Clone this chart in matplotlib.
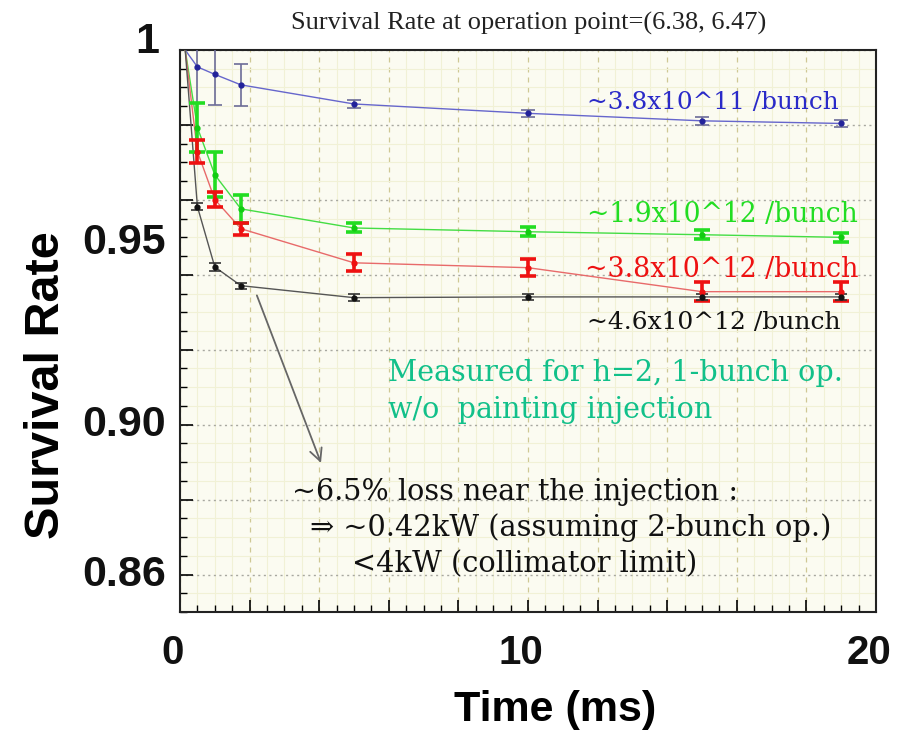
import matplotlib
matplotlib.use("Agg")
import matplotlib.pyplot as plt
import numpy as np

# ---- data ----
time_ms = [0.15, 0.5, 1.0, 1.75, 5, 10, 15, 19]
blue_rate = [1.0, 0.9955, 0.9935, 0.9907, 0.9856, 0.9831, 0.9811, 0.9804]
blue_err = [0, 0.0096, 0.0081, 0.0057, 0.001, 0.001, 0.001, 0.001]
green_rate = [1.0, 0.9793, 0.9667, 0.9576, 0.9525, 0.9515, 0.9507, 0.9500]
green_err = [0, 0.0065, 0.006, 0.0037, 0.0012, 0.0012, 0.0012, 0.0012]
red_rate = [1.0, 0.9729, 0.9601, 0.9523, 0.9432, 0.9419, 0.9355, 0.9355]
red_err = [0, 0.003, 0.002, 0.0016, 0.0023, 0.0023, 0.0025, 0.0025]
black_rate = [1.0, 0.9582, 0.9421, 0.9371, 0.9339, 0.9341, 0.9341, 0.9341]
black_err = [0, 0.001, 0.001, 0.0008, 0.001, 0.0008, 0.0008, 0.0008]

series_labels = ["~3.8x10^11 /bunch", "~1.9x10^12 /bunch",
                 "~3.8x10^12 /bunch", "~4.6x10^12 /bunch"]
title = "Survival Rate at operation point=(6.38, 6.47)"
xtick_vals = [0, 10, 20]
ytick_grid = [0.86, 0.88, 0.90, 0.92, 0.94, 0.96, 0.98, 1.0]

fig = plt.figure(figsize=(9, 7.41), dpi=100)
ax = fig.add_axes([0.2, 0.1741, 0.7733, 0.7584])
ax.set_facecolor("#fbfbf1")
ax.set_xlim(0, 20)
ax.set_ylim(0.85, 1.0)

# background grid
ax.set_xticks(np.arange(0, 20.01, 2))
ax.set_xticks(np.arange(0, 20.01, 0.5), minor=True)
ax.set_yticks(ytick_grid)
ax.set_yticks(np.arange(0.85, 1.0001, 0.005), minor=True)
ax.grid(axis="x", which="minor", color="#f1f1d6", lw=0.8, ls="-")
ax.grid(axis="y", which="minor", color="#f1f1d6", lw=0.8, ls="-")
ax.grid(axis="x", which="major", color="#cfc894", lw=0.9, ls=(0, (4, 4)))
ax.grid(axis="y", which="major", color="#a8a8a0", lw=1.0, ls=(0, (1.5, 2.5)))
ax.set_axisbelow(True)

ax.tick_params(which="both", direction="in", top=False, right=False,
               labelbottom=False, labelleft=False)
ax.tick_params(which="major", length=9, width=1.2)
ax.tick_params(which="minor", length=5, width=1.0)
for s in ax.spines.values():
    s.set_linewidth(1.5)
    s.set_color("#222222")

# series
def draw(rate, err, lc, mc, ec, elw, cap):
    ax.plot(time_ms, rate, color=lc, lw=1.0, zorder=3)
    ax.errorbar(time_ms[1:], rate[1:], yerr=err[1:], fmt="o", ms=3.5,
                color=mc, ecolor=ec, elinewidth=elw, capsize=cap,
                capthick=elw, zorder=4)

draw(blue_rate, blue_err, "#6666cc", "#22229a", "#6c6c98", 1.2, 5)
draw(green_rate, green_err, "#44dd44", "#11cc11", "#22dd22", 2.6, 6)
draw(red_rate, red_err, "#e86a6a", "#ee1111", "#ee1111", 2.6, 6)
draw(black_rate, black_err, "#555555", "#111111", "#333333", 1.2, 4)

# labels on curves
serif = "DejaVu Serif"
ax.text(11.7, 0.9859, series_labels[0], color="#2a2ac8", fontsize=17.8,
        family=serif, va="center", ha="left")
ax.text(11.7, 0.9560, series_labels[1], color="#22dd22", fontsize=19.2,
        family=serif, va="center", ha="left")
ax.text(11.64, 0.9413, series_labels[2], color="#ee1111", fontsize=19.4,
        family=serif, va="center", ha="left")
ax.text(11.7, 0.9272, series_labels[3], color="#111111", fontsize=18,
        family=serif, va="center", ha="left")
ax.text(5.98, 0.9139, "Measured for h=2, 1-bunch op.", color="#12c08a",
        fontsize=20.6, family=serif, va="center", ha="left")
ax.text(5.98, 0.9040, "w/o  painting injection", color="#12c08a",
        fontsize=20.6, family=serif, va="center", ha="left")
ax.text(3.22, 0.8819, "~6.5% loss near the injection :", color="#111111",
        fontsize=20.6, family=serif, va="center", ha="left")
ax.text(3.74, 0.8725, "\u21d2 ~0.42kW (assuming 2-bunch op.)", color="#111111",
        fontsize=20.8, family=serif, va="center", ha="left")
ax.text(4.94, 0.8627, "<4kW (collimator limit)", color="#111111",
        fontsize=20.8, family=serif, va="center", ha="left")

ax.annotate("", xy=(4.08, 0.8891), xytext=(2.18, 0.9352),
            arrowprops=dict(arrowstyle="->", color="#666666", lw=1.3,
                            mutation_scale=22))

# tick labels
bold = dict(family="Liberation Sans", fontweight="bold", color="#111111")
trans_y = ax.get_yaxis_transform()
for v, lab, dx in [(1.0021, "1", -0.03), (0.9485, "0.95", -0.02),
                   (0.90, "0.90", -0.02), (0.86, "0.86", -0.02)]:
    ax.text(dx, v, lab, transform=trans_y, ha="right", va="center",
            fontsize=31, **bold)
trans_x = ax.get_xaxis_transform()
for v in xtick_vals:
    ax.text(v - 0.2, -0.04, str(v), transform=trans_x, ha="center",
            va="top", fontsize=29, **bold)

fig.text(0.617, 0.042, "Time (ms)", ha="center", va="center",
         family="Liberation Sans", fontweight="bold", fontsize=31)
fig.text(0.052, 0.48, "Survival Rate", ha="center", va="center",
         rotation=90, family="Liberation Sans", fontweight="bold",
         fontsize=35)
fig.text(0.587, 0.968, title, ha="center", va="center",
         family="Liberation Serif", fontsize=19, color="#222222")

fig.savefig("out.png", dpi=100)
